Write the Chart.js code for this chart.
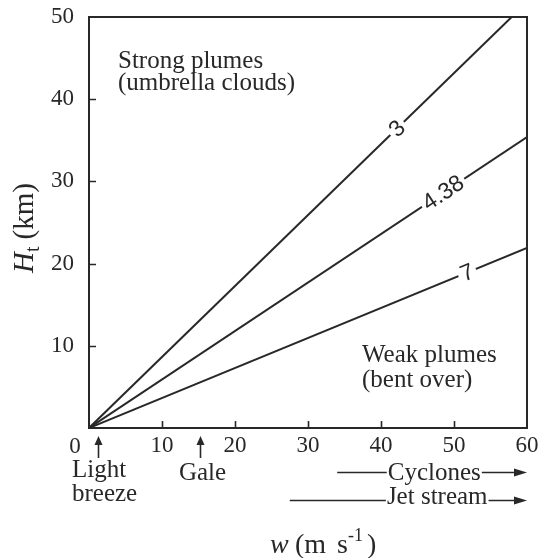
<!DOCTYPE html>
<html>
<head>
<meta charset="utf-8">
<script src="https://cdn.jsdelivr.net/npm/chart.js@4/dist/chart.umd.min.js"></script>
<style>
  html, body { margin: 0; padding: 0; background: #fff; }
</style>
</head>
<body>
<canvas id="myChart" width="540" height="558"></canvas>
<script>
// ratio lines, each from the origin to its end point
const ratioLabels = ['3', '4.38', '7'];
const ratioEndW = [57.9, 60, 60];
const ratioEndH = [50, 35.4, 21.9];
const ratioLabelW = [42.2, 48.5, 51.8];

const xTicks = [0, 10, 20, 30, 40, 50, 60];
const yTicks = [0, 10, 20, 30, 40, 50];

// wind speed markers below the axis
const markNames = [['Light', 'breeze'], ['Gale']];
const markSpeeds = [1.2, 15.2];

// wind speed ranges (arrows to the right)
const rangeNames = ['Cyclones', 'Jet stream'];
const rangeStart = [34, 27.5];
const rangeEnd = [60, 60];
const rangeTextAt = [47.3, 47.7];

const ink = '#282828';
const serif = "'Liberation Serif', 'Times New Roman', serif";
const sans = "'Liberation Sans', Arial, sans-serif";

const overlay = {
  id: 'overlay',
  afterDatasetsDraw(chart) {
    const { ctx, chartArea: a, scales: { x, y } } = chart;
    ctx.save();
    ctx.strokeStyle = ink;
    ctx.fillStyle = ink;

    // frame
    ctx.lineWidth = 2;
    ctx.strokeRect(a.left, a.top, a.right - a.left, a.bottom - a.top);

    // inward ticks
    ctx.lineWidth = 1.6;
    ctx.beginPath();
    xTicks.slice(1, -1).forEach((v) => {
      const px = Math.round(x.getPixelForValue(v)) + 0.5;
      ctx.moveTo(px, a.bottom);
      ctx.lineTo(px, a.bottom - 7);
    });
    yTicks.slice(1, -1).forEach((v) => {
      const py = Math.round(y.getPixelForValue(v)) + 0.5;
      ctx.moveTo(a.left, py);
      ctx.lineTo(a.left + 7, py);
    });
    ctx.stroke();

    // labels sitting in gaps of the ratio lines
    ctx.font = '23px ' + sans;
    ctx.textAlign = 'center';
    ctx.textBaseline = 'middle';
    ratioLabels.forEach((lab, i) => {
      const w = ratioLabelW[i];
      const h = (w * ratioEndH[i]) / ratioEndW[i];
      const px = x.getPixelForValue(w);
      const py = y.getPixelForValue(h);
      const ang = Math.atan2(
        y.getPixelForValue(ratioEndH[i]) - y.getPixelForValue(0),
        x.getPixelForValue(ratioEndW[i]) - x.getPixelForValue(0)
      );
      const tw = ctx.measureText(lab).width;
      ctx.save();
      ctx.translate(px, py);
      ctx.rotate(ang);
      ctx.fillStyle = '#fff';
      ctx.fillRect(-tw / 2 - 3, -6, tw + 6, 12);
      ctx.fillStyle = ink;
      ctx.fillText(lab, 0, 1);
      ctx.restore();
    });

    // region notes
    ctx.font = '25px ' + serif;
    ctx.textAlign = 'left';
    ctx.textBaseline = 'alphabetic';
    ctx.fillText('Strong plumes', 118, 68);
    ctx.fillText('(umbrella clouds)', 118, 90);
    ctx.fillText('Weak plumes', 362, 362);
    ctx.fillText('(bent over)', 362, 387);

    // the "0" tick label, set left of the origin
    ctx.font = '23px ' + serif;
    ctx.textAlign = 'center';
    ctx.fillText('0', x.getPixelForValue(0) - 14, 453);

    // up arrows for wind markers
    ctx.font = '25px ' + serif;
    ctx.lineWidth = 1.6;
    markSpeeds.forEach((s, i) => {
      const px = Math.round(x.getPixelForValue(s)) + 0.5;
      ctx.beginPath();
      ctx.moveTo(px, 443);
      ctx.lineTo(px, 458);
      ctx.stroke();
      ctx.beginPath();
      ctx.moveTo(px, 436);
      ctx.lineTo(px - 4, 445);
      ctx.lineTo(px + 4, 445);
      ctx.closePath();
      ctx.fill();
      const names = markNames[i];
      if (names.length > 1) {
        ctx.textAlign = 'left';
        ctx.fillText(names[0], x.getPixelForValue(0) - 17, 477);
        ctx.fillText(names[1], x.getPixelForValue(0) - 17, 501);
      } else {
        ctx.textAlign = 'center';
        ctx.fillText(names[0], px + 2, 480);
      }
    });

    // range arrows
    const rowY = [472, 500];
    const rowBase = [480, 504];
    ctx.textAlign = 'center';
    rangeNames.forEach((name, i) => {
      const x0 = x.getPixelForValue(rangeStart[i]);
      const x1 = x.getPixelForValue(rangeEnd[i]);
      const xc = x.getPixelForValue(rangeTextAt[i]);
      const tw = ctx.measureText(name).width;
      const ly = rowY[i] + 0.5;
      ctx.beginPath();
      ctx.moveTo(x0, ly);
      ctx.lineTo(xc - tw / 2 - 1, ly);
      ctx.moveTo(xc + tw / 2 + 1, ly);
      ctx.lineTo(x1 - 10, ly);
      ctx.stroke();
      ctx.beginPath();
      ctx.moveTo(x1, ly);
      ctx.lineTo(x1 - 13, ly - 4);
      ctx.lineTo(x1 - 13, ly + 4);
      ctx.closePath();
      ctx.fill();
      ctx.fillText(name, xc, rowBase[i]);
    });

    // x axis title: w (m s^-1)
    ctx.textAlign = 'left';
    const by = 553;
    ctx.font = 'italic 28px ' + serif;
    ctx.fillText('w', 270, by);
    ctx.font = '28px ' + serif;
    ctx.fillText('(m', 295, by);
    ctx.fillText('s', 337, by);
    ctx.font = '18px ' + serif;
    ctx.fillText('-1', 348, by - 12);
    ctx.font = '28px ' + serif;
    ctx.fillText(')', 367, by);

    // y axis title: H_t (km)
    ctx.save();
    ctx.translate(33, 273);
    ctx.rotate(-Math.PI / 2);
    let cy = 0;
    ctx.font = 'italic 29px ' + serif;
    ctx.fillText('H', cy, 0);
    cy += ctx.measureText('H').width;
    ctx.font = '20px ' + serif;
    ctx.fillText('t', cy, 6);
    cy += ctx.measureText('t').width + 7;
    ctx.font = '29px ' + serif;
    ctx.fillText('(km)', cy, 0);
    ctx.restore();

    ctx.restore();
  },
};

const config = {
  type: 'scatter',
  data: {
    datasets: ratioLabels.map((lab, i) => ({
      label: lab,
      data: [
        { x: 0, y: 0 },
        { x: ratioEndW[i], y: ratioEndH[i] },
      ],
      showLine: true,
      borderColor: ink,
      borderWidth: 2,
      pointRadius: 0,
      fill: false,
    })),
  },
  options: {
    responsive: false,
    animation: false,
    devicePixelRatio: 1,
    layout: { padding: { left: 0, top: 17, right: 13, bottom: 0 } },
    plugins: {
      legend: { display: false },
      tooltip: { enabled: false },
    },
    scales: {
      x: {
        type: 'linear',
        min: 0,
        max: 60,
        afterBuildTicks: (s) => {
          s.ticks = xTicks.map((v) => ({ value: v }));
        },
        afterFit: (s) => {
          s.height = 130;
          s.paddingLeft = 0;
          s.paddingRight = 0;
        },
        ticks: {
          callback: (v) => (v === 0 ? '' : v),
          color: ink,
          font: { family: serif, size: 23 },
          padding: 4,
          maxRotation: 0,
          autoSkip: false,
        },
        grid: { display: false, drawTicks: false },
        border: { display: false },
      },
      y: {
        type: 'linear',
        min: 0,
        max: 50,
        afterBuildTicks: (s) => {
          s.ticks = yTicks.map((v) => ({ value: v }));
        },
        afterFit: (s) => {
          s.width = 89;
          s.paddingTop = 0;
          s.paddingBottom = 0;
        },
        ticks: {
          callback: (v) => (v === 0 ? '' : v),
          color: ink,
          font: { family: serif, size: 23 },
          padding: 15,
          autoSkip: false,
        },
        grid: { display: false, drawTicks: false },
        border: { display: false },
      },
    },
  },
  plugins: [overlay],
};

const myChart = new Chart(document.getElementById('myChart'), config);
</script>
</body>
</html>
